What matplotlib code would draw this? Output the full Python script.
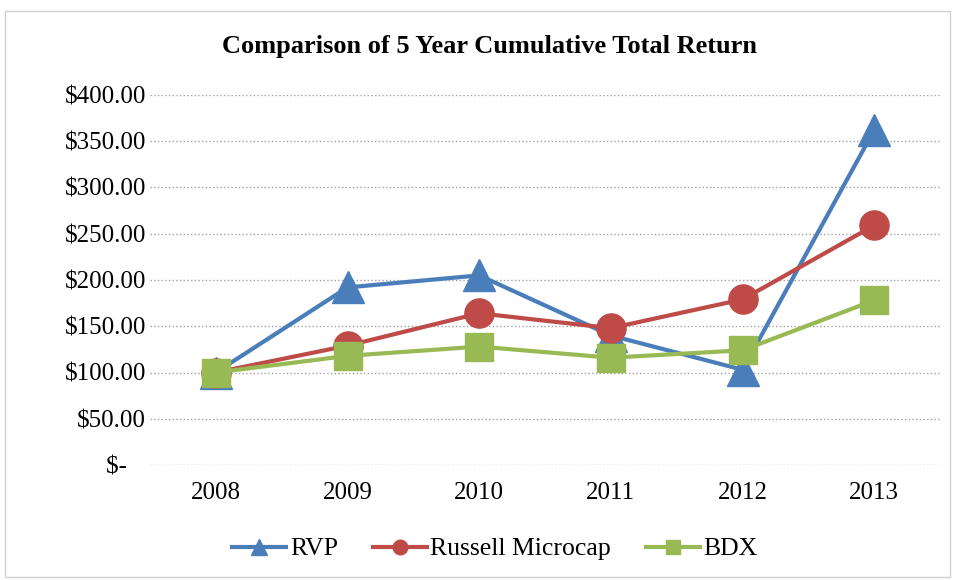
import matplotlib.pyplot as plt
from matplotlib.patches import Rectangle

# 数据
years = ['2008', '2009', '2010', '2011', '2012', '2013']
rvp = [100, 192, 205, 140, 103, 362]
russell = [100, 129, 164, 148, 179, 259]
bdx = [100, 118, 128, 116, 124, 178]
yticks = [0, 50, 100, 150, 200, 250, 300, 350, 400]
ytick_labels = ['$-   ', '$50.00', '$100.00', '$150.00', '$200.00',
                '$250.00', '$300.00', '$350.00', '$400.00']

plt.rcParams['font.family'] = ['Liberation Serif', 'DejaVu Serif']

fig = plt.figure(figsize=(9.56, 5.8), dpi=100)
ax = fig.add_axes([150 / 956, 1 - 465 / 580, 790 / 956, 370 / 580])

x = list(range(len(years)))
ax.plot(x, rvp, color='#4a7ebb', lw=3, marker='^', ms=23, label='RVP')
ax.plot(x, russell, color='#be4b48', lw=3, marker='o', ms=21, label='Russell Microcap')
ax.plot(x, bdx, color='#98b954', lw=3, marker='s', ms=20, label='BDX')

ax.set_xlim(-0.5, len(years) - 0.5)
ax.set_ylim(0, 400)
ax.set_xticks(x)
ax.set_xticklabels(years, fontsize=18)
ax.set_yticks(yticks)
ax.set_yticklabels(ytick_labels, fontsize=18)
ax.tick_params(axis='y', length=0, pad=3)
ax.tick_params(axis='x', length=0, pad=12)
ax.yaxis.grid(True, linestyle=':', color='#a0a0a0', lw=1)
ax.set_axisbelow(True)
for s in ax.spines.values():
    s.set_visible(False)

fig.text(490 / 956, 1 - 47 / 580, 'Comparison of 5 Year Cumulative Total Return',
         ha='center', va='center', fontsize=19, fontweight='bold')

fig.legend(loc='center', bbox_to_anchor=(495 / 956, 1 - 549 / 580), ncol=3,
           frameon=False, fontsize=18.5, markerscale=0.5, handlelength=2.1,
           columnspacing=1.35, handletextpad=0.15)

# 外框
fig.patches.append(Rectangle((5 / 956, 3 / 580), 945 / 956, 566 / 580,
                             transform=fig.transFigure, fill=False,
                             edgecolor='#d0d0d0', lw=1))

fig.savefig('out.png', dpi=100)
